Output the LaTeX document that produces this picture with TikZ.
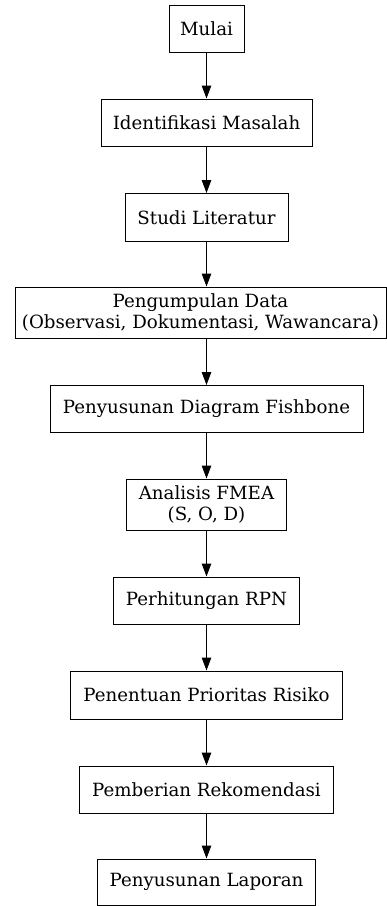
\documentclass[tikz,border=0pt]{standalone}
\usepackage{fontspec}
\setmainfont{DejaVu Serif}
\usetikzlibrary{arrows.meta}

\tikzset{
  proses/.style={draw, line width=1pt, inner sep=0pt, align=center,
    font=\fontsize{18.2}{20.5}\selectfont},
  panah/.style={-{Triangle[length=13pt,width=9.5pt]}, line width=1pt}
}

\begin{document}
\begin{tikzpicture}[x=1pt, y=-1pt]
        \useasboundingbox (0,0) rectangle (387,906);
        % Draw the steps of the research flow
        \node[proses, minimum width=75, minimum height=47] (mulai) at (206.5,28.5) {Mulai};
        \node[proses, minimum width=211, minimum height=47] (identifikasi) at (206.5,122.5) {Identifikasi Masalah};
        \node[proses, minimum width=163, minimum height=48] (studi) at (206.5,217.5) {Studi Literatur};
        \node[proses, minimum width=371, minimum height=51] (pengumpulan) at (200.5,312.5) {Pengumpulan Data\\(Observasi, Dokumentasi, Wawancara)};
        \node[proses, minimum width=313, minimum height=47] (fishbone) at (206.5,409) {Penyusunan Diagram Fishbone};
        \node[proses, minimum width=160, minimum height=51] (fmea) at (206.5,504.5) {Analisis FMEA\\(S, O, D)};
        \node[proses, minimum width=186, minimum height=47] (rpn) at (206.5,600.5) {Perhitungan RPN};
        \node[proses, minimum width=272, minimum height=48] (prioritas) at (206.5,695) {Penentuan Prioritas Risiko};
        \node[proses, minimum width=254, minimum height=47] (rekomendasi) at (206.5,789.5) {Pemberian Rekomendasi};
        \node[proses, minimum width=218, minimum height=46] (laporan) at (206.5,882) {Penyusunan Laporan};
        % Draw the arrows between the steps
        \draw[panah] (mulai) -- (identifikasi);
        \draw[panah] (identifikasi) -- (studi);
        \draw[panah] (studi) -- (studi |- pengumpulan.north);
        \draw[panah] (pengumpulan.south -| studi) -- (fishbone);
        \draw[panah] (fishbone) -- (fmea);
        \draw[panah] (fmea) -- (rpn);
        \draw[panah] (rpn) -- (prioritas);
        \draw[panah] (prioritas) -- (rekomendasi);
        \draw[panah] (rekomendasi) -- (laporan);
\end{tikzpicture}
\end{document}
